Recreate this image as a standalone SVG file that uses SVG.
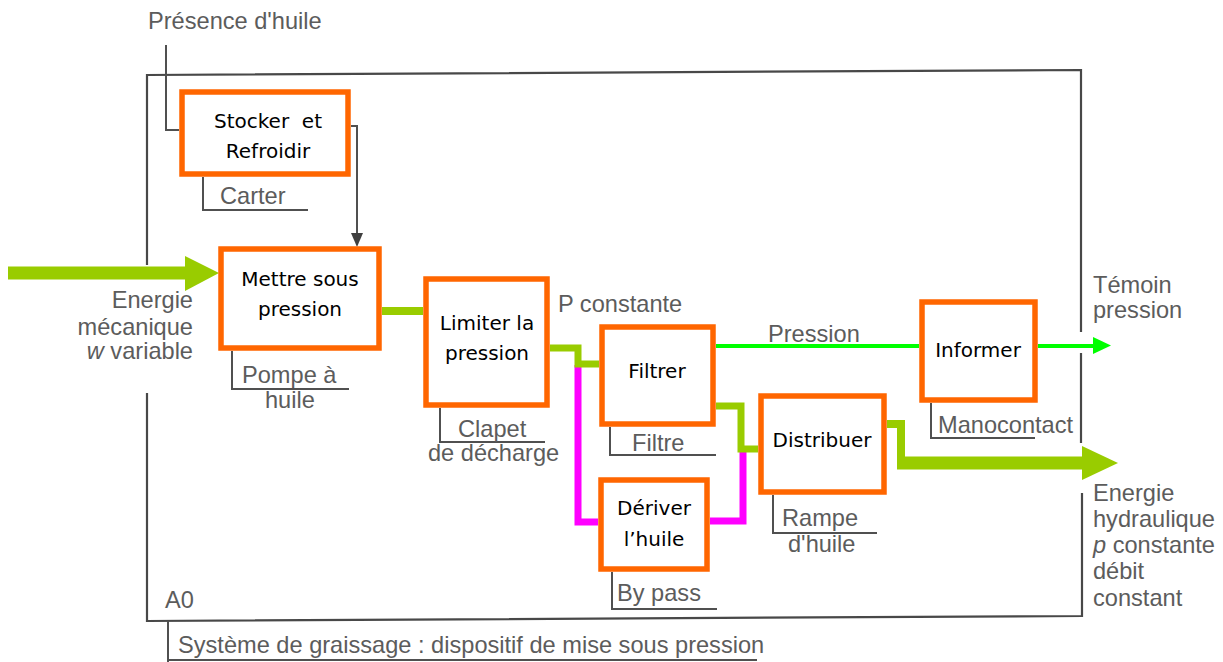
<svg xmlns="http://www.w3.org/2000/svg" width="1223" height="662" viewBox="0 0 1223 662">
<defs>
<style>
.box{fill:#fff;stroke:#ff6600;stroke-width:5.5}
.bt{font-family:"DejaVu Sans",sans-serif;font-size:20px;fill:#000;text-anchor:middle}
.lb{font-family:"Liberation Sans",Arial,sans-serif;font-size:23.6px;fill:#5c5c5c}
.gl{fill:none;stroke:#505050;stroke-width:2}
.fr{fill:none;stroke:#484848;stroke-width:2.2}
.olive{fill:none;stroke:#99cc00}
.mag{fill:none;stroke:#ff00ff;stroke-width:7}
</style>
</defs>
<rect width="1223" height="662" fill="#fff"/>
<g id="frame">
<path class="fr" d="M147,265 V75 L1081,70 V332"/>
<path class="fr" d="M1081,353 V443"/>
<path class="fr" d="M1082,493 V616 L147,621 V393"/>
<path class="gl" d="M168,621 V662 M168,660 H757"/>
</g>
<g id="connectors">
<path class="gl" d="M166,45 V130 H179"/>
<path class="gl" d="M351,126 H357 V234"/>
<polygon points="351,233 363,233 357,247" fill="#404040"/>
<path class="olive" stroke-width="13" d="M8,273 H190"/>
<polygon points="185,256 219,273 185,291" fill="#99cc00"/>
<path class="olive" stroke-width="8" d="M382,311 H423"/>
<path class="mag" d="M578,365 V522 H598"/>
<path class="mag" d="M710,521 H743 V450"/>
<path class="olive" stroke-width="7" d="M550,348 H578 V364 H599"/>
<path class="olive" stroke-width="7" d="M716,406 H741 V449 H758"/>
<path class="olive" stroke-width="8" d="M887,424 H901 V463"/>
<path class="olive" stroke-width="13" d="M897,463 H1085"/>
<polygon points="1082,446 1118,463 1082,480" fill="#99cc00"/>
<path fill="none" stroke="#00ff00" stroke-width="4" d="M716,346 H919 M1038,346 H1095"/>
<polygon points="1093,337 1111,345.5 1093,354" fill="#00ff00"/>
</g>
<g id="stocker">
<rect class="box" x="182" y="92" width="166" height="82"/>
<text class="bt" x="268" y="128" xml:space="preserve">Stocker  et</text>
<text class="bt" x="268" y="158">Refroidir</text>
<path class="gl" d="M203,177 V210 H308"/>
<text class="lb" x="220" y="204">Carter</text>
</g>
<g id="mettre">
<rect class="box" x="221" y="249" width="158" height="99"/>
<text class="bt" x="300" y="286">Mettre sous</text>
<text class="bt" x="300" y="316">pression</text>
<path class="gl" d="M232,351 V389 H349"/>
<text class="lb" x="242" y="383">Pompe à</text>
<text class="lb" x="265" y="408">huile</text>
</g>
<g id="limiter">
<rect class="box" x="426" y="279" width="121" height="126"/>
<text class="bt" x="487" y="330">Limiter la</text>
<text class="bt" x="487" y="360">pression</text>
<path class="gl" d="M440,408 V442 H545"/>
<text class="lb" x="458" y="437">Clapet</text>
<text class="lb" x="428" y="461">de décharge</text>
</g>
<g id="filtrer">
<rect class="box" x="602" y="327" width="111" height="97"/>
<text class="bt" x="657" y="378">Filtrer</text>
<path class="gl" d="M610,427 V455 H716"/>
<text class="lb" x="632" y="451">Filtre</text>
</g>
<g id="deriver">
<rect class="box" x="601" y="480" width="106" height="89"/>
<text class="bt" x="654" y="515">Dériver</text>
<text class="bt" x="654" y="546">l’huile</text>
<path class="gl" d="M612,572 V609 H717"/>
<text class="lb" x="617" y="601">By pass</text>
</g>
<g id="distribuer">
<rect class="box" x="761" y="396" width="123" height="96"/>
<text class="bt" x="822" y="447">Distribuer</text>
<path class="gl" d="M773,495 V533 H877"/>
<text class="lb" x="782" y="526">Rampe</text>
<text class="lb" x="788" y="552">d'huile</text>
</g>
<g id="informer">
<rect class="box" x="922" y="302" width="113" height="98"/>
<text class="bt" x="978" y="357">Informer</text>
<path class="gl" d="M931,403 V438 H1035"/>
<text class="lb" x="938" y="433">Manocontact</text>
</g>
<g id="labels">
<text class="lb" x="148" y="29">Présence d'huile</text>
<text class="lb" x="193" y="308" text-anchor="end">Energie</text>
<text class="lb" x="193" y="335" text-anchor="end">mécanique</text>
<text class="lb" x="193" y="359" text-anchor="end"><tspan font-style="italic">w</tspan> variable</text>
<text class="lb" x="558" y="312">P constante</text>
<text class="lb" x="768" y="342">Pression</text>
<text class="lb" x="1093" y="293">Témoin</text>
<text class="lb" x="1093" y="318">pression</text>
<text class="lb" x="1093" y="501">Energie</text>
<text class="lb" x="1093" y="527">hydraulique</text>
<text class="lb" x="1093" y="553"><tspan font-style="italic">p</tspan> constante</text>
<text class="lb" x="1093" y="579">débit</text>
<text class="lb" x="1093" y="606">constant</text>
<text class="lb" x="165" y="608">A0</text>
<text class="lb" x="178" y="653">Système de graissage : dispositif de mise sous pression</text>
</g>
</svg>
